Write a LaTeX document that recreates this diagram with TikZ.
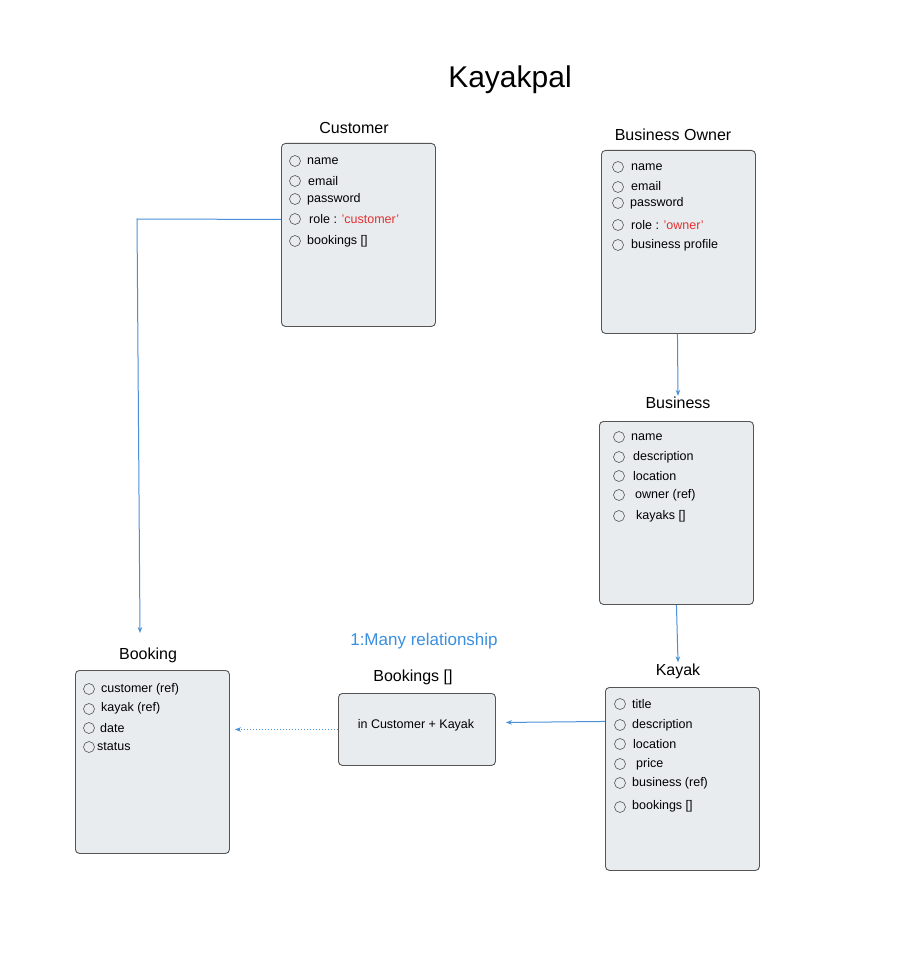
\documentclass[tikz,border=0pt]{standalone}
\usepackage{fontspec}
\setmainfont{Liberation Sans}
\usetikzlibrary{arrows.meta}
\definecolor{boxfill}{HTML}{E9ECEF}
\definecolor{boxline}{HTML}{555555}
\definecolor{linkblue}{HTML}{4A90D9}
\definecolor{relblue}{HTML}{3B8FE0}
\definecolor{rolered}{HTML}{E03131}
\tikzset{
  entity/.style={draw=boxline, fill=boxfill, line width=0.9pt, rounded corners=4pt, anchor=north west, minimum width=154pt, minimum height=183pt, inner sep=0pt},
  smallbox/.style={draw=boxline, fill=boxfill, line width=0.9pt, rounded corners=4pt, anchor=north west, minimum width=157pt, minimum height=72pt, inner sep=0pt},
  etitle/.style={font=\fontsize{16}{18}\selectfont, inner sep=1pt},
  item/.style={anchor=west, inner sep=0pt, font=\fontsize{12.5}{14}\selectfont},
  circ/.style={draw=boxline, line width=0.6pt},
  link/.style={draw=linkblue, line width=1pt, -{Stealth[length=6pt,width=4.5pt]}},
  dotlink/.style={draw=linkblue, line width=1.1pt, dash pattern=on 1.2pt off 1.8pt, -{Stealth[length=6pt,width=4.5pt]}}
}
\begin{document}
\begin{tikzpicture}[x=1pt,y=-1pt]
\useasboundingbox (0,0) rectangle (917,968);
\fill[white] (0,0) rectangle (917,968);

\node[font=\fontsize{30}{34}\selectfont] (maintitle) at (510,80) {Kayakpal};

% Customer
\node[etitle] (custt) at (354,128) {Customer};
\node[entity] (cust) at (281,143) {};
\foreach \y in {161,181,199,219,241} \draw[circ] (295,\y) circle (5.5);
\node[item] (c1) at (307,161) {name};
\node[item] (c2) at (308,181) {email};
\node[item] (c3) at (307,199) {password};
\node[item] (c4) at (309,219) {role : \textcolor{rolered}{'customer'}};
\node[item] (c5) at (307,241) {bookings []};

% Business Owner
\node[etitle] (ownt) at (673,135) {Business Owner};
\node[entity] (own) at (601,150) {};
\foreach \y in {167,187,203,225,245} \draw[circ] (618,\y) circle (5.5);
\node[item] (o1) at (631,167) {name};
\node[item] (o2) at (631,186) {email};
\node[item] (o3) at (630,203) {password};
\node[item] (o4) at (631,225) {role : \textcolor{rolered}{'owner'}};
\node[item] (o5) at (631,245) {business profile};

% Business
\node[etitle] (bust) at (678,403) {Business};
\node[entity] (bus) at (599,421) {};
\foreach \y in {437,457,476,495,516} \draw[circ] (619,\y) circle (5.5);
\node[item] (b1) at (631,437) {name};
\node[item] (b2) at (633,457) {description};
\node[item] (b3) at (633,476) {location};
\node[item] (b4) at (635,495) {owner (ref)};
\node[item] (b5) at (636,516) {kayaks []};

% Kayak
\node[etitle] (kayt) at (678,671) {Kayak};
\node[entity] (kay) at (605,687) {};
\foreach \y in {704,725,744,764,783,807} \draw[circ] (620,\y) circle (5.5);
\node[item] (k1) at (632,704) {title};
\node[item] (k2) at (632,725) {description};
\node[item] (k3) at (633,744) {location};
\node[item] (k4) at (636,764) {price};
\node[item] (k5) at (632,783) {business (ref)};
\node[item] (k6) at (632,806) {bookings []};

% Booking
\node[etitle] (bkgt) at (148,655) {Booking};
\node[entity] (bkg) at (75,670) {};
\foreach \y in {689,709,728,747} \draw[circ] (89,\y) circle (5.5);
\node[item] (g1) at (101,689) {customer (ref)};
\node[item] (g2) at (101,708) {kayak (ref)};
\node[item] (g3) at (100,728) {date};
\node[item] (g4) at (97,747) {status};

% Bookings []
\node[font=\fontsize{17}{20}\selectfont, text=relblue] (rel) at (424,641) {1:Many relationship};
\node[etitle] (bkst) at (413,677) {Bookings []};
\node[smallbox] (bks) at (338,693) {};
\node[item, anchor=center] (bkstext) at (416,725) {in Customer + Kayak};

% Connectors
\coordinate (bend) at (137,219);
\coordinate (bkgend) at (140,633);
\draw[link] ([yshift=15.5pt]cust.west) -- (bend) -- (bkgend);
\draw[link] ([xshift=-1pt]own.south) -- (bust.north);
\draw[link] (bus.south) -- (kayt.north);
\draw[link] ([yshift=57.5pt]kay.west) -- ([xshift=10pt,yshift=7pt]bks.east);
\draw[dotlink] (bks.west) -- ([xshift=5pt]bkg.east |- bks.west);
\end{tikzpicture}
\end{document}
